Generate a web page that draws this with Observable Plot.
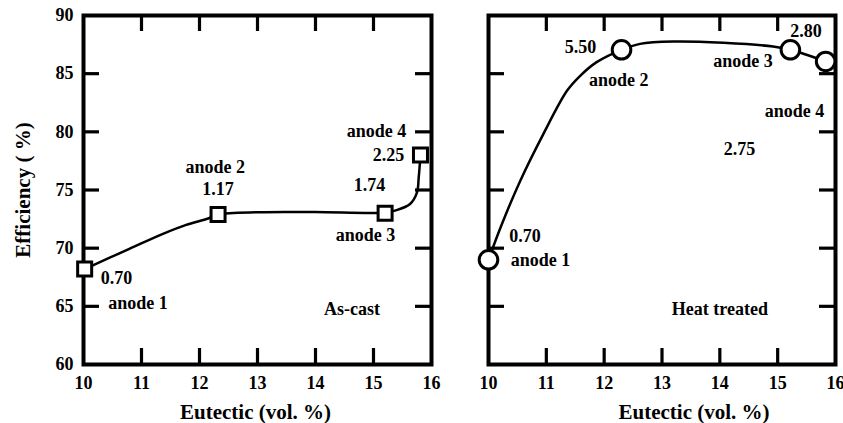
<!DOCTYPE html>
<html>
<head>
<meta charset="utf-8">
<script src="https://cdn.jsdelivr.net/npm/d3@7"></script>
<script src="https://cdn.jsdelivr.net/npm/@observablehq/plot@0.6"></script>
<style>
  html, body { margin: 0; padding: 0; background: #fff; }
  #wrap { display: flex; width: 843px; height: 423px; }
</style>
</head>
<body>
<div id="wrap"></div>
<script>
// ---- data ----
const xTicks = [10, 11, 12, 13, 14, 15, 16];
const yTicks = [60, 65, 70, 75, 80, 85, 90];

// As-cast panel
const castX = [10.02, 12.32, 15.2, 15.81];
const castY = [68.2, 72.9, 73.0, 78.0];
const castCurveX = [10.02, 10.79, 11.37, 11.77, 12.15, 12.32, 13.04, 14.0, 15.2, 15.37, 15.63, 15.75, 15.78, 15.81];
const castCurveY = [68.2, 69.94, 71.23, 72.0, 72.55, 72.9, 73.09, 73.1, 73.05, 73.23, 73.8, 74.8, 76.1, 78.0];
const castLabelText = ["0.70", "anode 1", "anode 2", "1.17", "1.74", "anode 3", "anode 4", "2.25", "As-cast"];
const castLabelX = [10.57, 10.94, 12.27, 12.32, 14.93, 14.86, 15.05, 15.26, 14.63];
const castLabelY = [67.41, 65.26, 76.96, 75.1, 75.38, 71.08, 80.03, 77.96, 64.78];

// Heat treated panel
const heatX = [10.0, 12.3, 15.22, 15.83];
const heatY = [69.0, 87.05, 87.05, 86.05];
const heatCurveX = [10.0, 10.21, 10.55, 10.95, 11.36, 11.59, 11.87, 12.3, 12.62, 13.2, 14.06, 14.92, 15.22, 15.83];
const heatCurveY = [69.0, 71.8, 75.8, 79.83, 83.55, 84.84, 85.99, 87.05, 87.56, 87.76, 87.65, 87.33, 87.05, 86.05];
const heatLabelText = ["5.50", "anode 2", "anode 3", "2.80", "anode 4", "2.75", "0.70", "anode 1", "Heat treated"];
const heatLabelX = [11.59, 12.25, 14.40, 15.49, 15.29, 14.34, 10.63, 10.9, 14.0];
const heatLabelY = [87.28, 84.41, 86.04, 88.65, 81.75, 78.54, 71.03, 69.0, 64.78];

const xTitle = "Eutectic (vol. %)";
const yTitle = "Efficiency ( %)";

// ---- drawing ----
const H = 423, MT = 15, MB = 59;
const innerH = H - MT - MB;
const FONT = "Liberation Serif, Times New Roman, serif";
const zip = (xs, ys) => xs.map((x, i) => ({x, y: ys[i]}));
const zipT = (ts, xs, ys) => ts.map((t, i) => ({t, x: xs[i], y: ys[i]}));

function panel({width, marginLeft, marginRight, pts, curve, labels, symbol, r, showY, titleDx}) {
  const innerW = width - marginLeft - marginRight;
  const xInner = xTicks.slice(1, -1), yInner = yTicks.slice(1, -1);
  const marks = [
    Plot.tickX(xInner, {x: d => d, insetTop: innerH - 16, strokeWidth: 3.2}),
    Plot.tickX(xInner, {x: d => d, insetBottom: innerH - 16, strokeWidth: 3.2}),
    Plot.tickY(yInner, {y: d => d, insetRight: innerW - 16, strokeWidth: 3.2}),
    Plot.tickY(yInner, {y: d => d, insetLeft: innerW - 16, strokeWidth: 3.2}),
    Plot.frame({strokeWidth: 4}),
    Plot.axisX(xTicks, {label: null, tickSize: 0, tickPadding: 12, fontSize: 18, fontWeight: "bold"}),
    Plot.text([xTitle], {frameAnchor: "bottom", textAnchor: "middle", lineAnchor: "middle", dx: titleDx, dy: 48, fontSize: 21, fontWeight: "bold"}),
    Plot.line(curve, {x: "x", y: "y", curve: "catmull-rom", strokeWidth: 2.5}),
    Plot.dot(pts, {x: "x", y: "y", symbol, r, fill: "white", stroke: "black", strokeWidth: 3}),
    Plot.text(labels, {x: "x", y: "y", text: "t", fontSize: 18, fontWeight: "bold", fill: "black"})
  ];
  if (showY) {
    marks.push(Plot.axisY(yTicks, {label: null, tickSize: 0, tickPadding: 10, fontSize: 18, fontWeight: "bold"}));
    marks.push(Plot.text([yTitle], {frameAnchor: "left", textAnchor: "middle", lineAnchor: "middle", dx: -60, rotate: -90, fontSize: 21, fontWeight: "bold"}));
  }
  return Plot.plot({
    width, height: H,
    marginLeft, marginRight, marginTop: MT, marginBottom: MB,
    style: {fontFamily: FONT, fontWeight: "bold", fontSize: "18px", color: "black", background: "white", overflow: "visible"},
    x: {domain: [10, 16], axis: null},
    y: {domain: [60, 90], axis: null},
    marks
  });
}

const wrap = document.getElementById("wrap");
wrap.append(panel({
  width: 458, marginLeft: 83, marginRight: 27,
  pts: zip(castX, castY), curve: zip(castCurveX, castCurveY),
  labels: zipT(castLabelText, castLabelX, castLabelY),
  symbol: "square", r: 7.9, showY: true, titleDx: -2
}));
wrap.append(panel({
  width: 385, marginLeft: 30, marginRight: 8,
  pts: zip(heatX, heatY), curve: zip(heatCurveX, heatCurveY),
  labels: zipT(heatLabelText, heatLabelX, heatLabelY),
  symbol: "circle", r: 9.3, showY: false, titleDx: 32
}));
</script>
</body>
</html>
